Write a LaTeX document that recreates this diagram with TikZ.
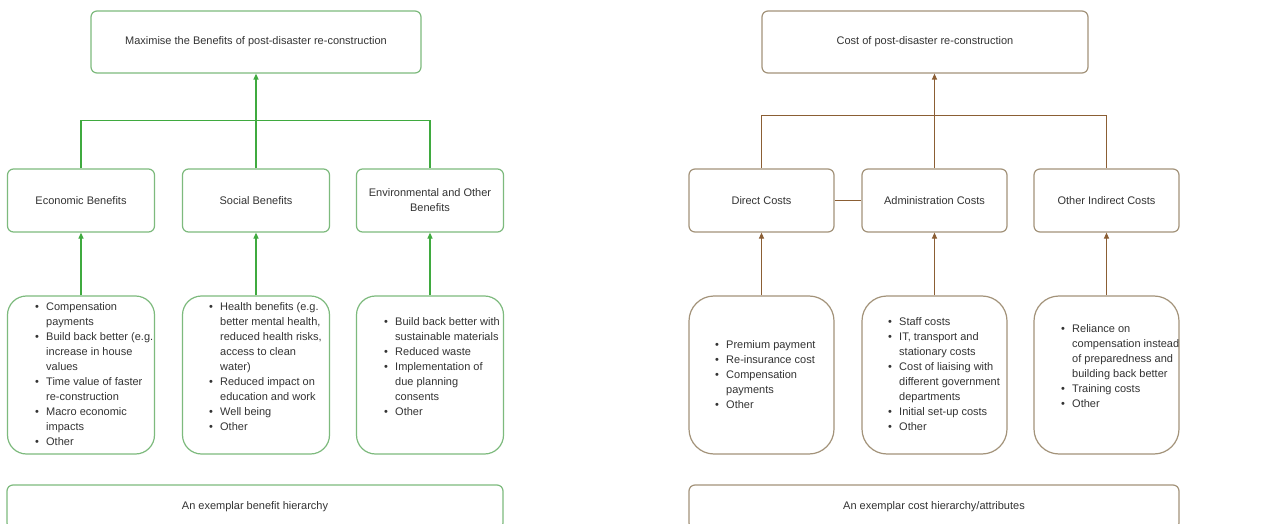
\documentclass[tikz,border=0pt]{standalone}
\usepackage{fontspec}
\setmainfont{Liberation Sans}
\usetikzlibrary{arrows.meta}
\definecolor{gbox}{HTML}{7DBA7D}
\definecolor{gline}{HTML}{3FAA3F}
\definecolor{bbox}{HTML}{A3937A}
\definecolor{bline}{HTML}{8B5E34}
\definecolor{txt}{HTML}{333333}
\newcommand{\bu}{\makebox[11pt][l]{\textbullet}}
\newcommand{\ind}{\hspace*{11pt}}
\begin{document}
\begin{tikzpicture}[x=1pt,y=-1pt,
  basebox/.style={draw, line width=1.2pt, text=txt, align=center, inner sep=0pt,
    font=\fontsize{11}{15}\selectfont},
  gb/.style={basebox, draw=gbox, rounded corners=6pt},
  bb/.style={basebox, draw=bbox, rounded corners=6pt},
  gbl/.style={basebox, draw=gbox, rounded corners=19pt},
  bbl/.style={basebox, draw=bbox, rounded corners=25pt},
  list/.style={anchor=north west, inner sep=0pt, align=left, text=txt,
    font=\fontsize{11}{15}\selectfont},
  gl/.style={draw=gline, line width=1.2pt},
  bl/.style={draw=bline, line width=1.2pt},
  tip/.style={-{Triangle[length=6pt,width=5pt]}}
]
\useasboundingbox (0,0) rectangle (1267,524);
\clip (0,0) rectangle (1267,524);
\fill[white] (0,0) rectangle (1267,524);

% ---------------- Benefits (left) ----------------
\node[gb, minimum width=330pt, minimum height=62pt] (gtop) at (256,42)
  {Maximise the Benefits of post-disaster re-construction};
\node[gb, minimum width=147pt, minimum height=63pt] (eco) at (81,200.5) {Economic Benefits};
\node[gb, minimum width=147pt, minimum height=63pt] (soc) at (256,200.5) {Social Benefits};
\node[gb, minimum width=147pt, minimum height=63pt] (env) at (430,200.5) {Environmental and Other\\Benefits};

\node[gbl, minimum width=147pt, minimum height=158pt] (ecol) at (81,375) {};
\node[gbl, minimum width=147pt, minimum height=158pt] (socl) at (256,375) {};
\node[gbl, minimum width=147pt, minimum height=158pt] (envl) at (430,375) {};

\node[list] (ecot) at (35,302.5) {\bu Compensation\\ \ind payments\\ \bu Build back better (e.g.\\ \ind increase in house\\ \ind values\\ \bu Time value of faster\\ \ind re-construction\\ \bu Macro economic\\ \ind impacts\\ \bu Other};
\node[list] (soct) at (209,302.5) {\bu Health benefits (e.g.\\ \ind better mental health,\\ \ind reduced health risks,\\ \ind access to clean\\ \ind water)\\ \bu Reduced impact on\\ \ind education and work\\ \bu Well being\\ \bu Other};
\node[list] (envt) at (384,317.5) {\bu Build back better with\\ \ind sustainable materials\\ \bu Reduced waste\\ \bu Implementation of\\ \ind due planning\\ \ind consents\\ \bu Other};

\node[gb, minimum width=496pt, minimum height=44pt] (gcap) at (255,507) {An exemplar benefit hierarchy};

\draw[gl] (eco.north) -- ++(0,-48) -| (env.north);
\draw[gl,tip] (soc.north) -- (soc.north |- gtop.south);
\draw[gl,tip] (ecol.north) -- (eco.south);
\draw[gl,tip] (socl.north) -- (soc.south);
\draw[gl,tip] (envl.north) -- (env.south);

% ---------------- Costs (right) ----------------
\node[bb, minimum width=326pt, minimum height=62pt] (btop) at (925,42)
  {Cost of post-disaster re-construction};
\node[bb, minimum width=145pt, minimum height=63pt] (dc) at (761.5,200.5) {Direct Costs};
\node[bb, minimum width=145pt, minimum height=63pt] (ac) at (934.5,200.5) {Administration Costs};
\node[bb, minimum width=145pt, minimum height=63pt] (oc) at (1106.5,200.5) {Other Indirect Costs};

\node[bbl, minimum width=145pt, minimum height=158pt] (dcl) at (761.5,375) {};
\node[bbl, minimum width=145pt, minimum height=158pt] (acl) at (934.5,375) {};
\node[bbl, minimum width=145pt, minimum height=158pt] (ocl) at (1106.5,375) {};

\node[list] (dct) at (715,340.5) {\bu Premium payment\\ \bu Re-insurance cost\\ \bu Compensation\\ \ind payments\\ \bu Other};
\node[list] (act) at (888,317.5) {\bu Staff costs\\ \bu IT, transport and\\ \ind stationary costs\\ \bu Cost of liaising with\\ \ind different government\\ \ind departments\\ \bu Initial set-up costs\\ \bu Other};
\node[list] (oct) at (1061,324.5) {\bu Reliance on\\ \ind compensation instead\\ \ind of preparedness and\\ \ind building back better\\ \bu Training costs\\ \bu Other};

\node[bb, minimum width=490pt, minimum height=44pt] (bcap) at (934,507) {An exemplar cost hierarchy/attributes};

\draw[bl] (dc.north) -- ++(0,-53) -| (oc.north);
\draw[bl,tip] (ac.north) -- (ac.north |- btop.south);
\draw[bl] (dc.east) -- (ac.west);
\draw[bl,tip] (dcl.north) -- (dc.south);
\draw[bl,tip] (acl.north) -- (ac.south);
\draw[bl,tip] (ocl.north) -- (oc.south);
\end{tikzpicture}
\end{document}
